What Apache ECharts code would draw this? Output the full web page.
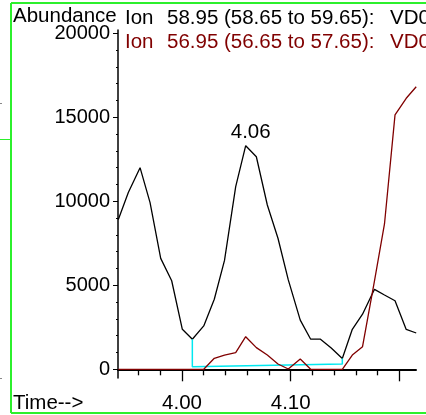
<!DOCTYPE html>
<html>
<head>
<meta charset="utf-8">
<script src="https://cdn.jsdelivr.net/npm/echarts@6/dist/echarts.min.js"></script>
<style>
  html, body { margin: 0; padding: 0; background: #fff; }
  #chart { width: 426px; height: 415px; }
</style>
</head>
<body>
<div id="chart"></div>
<script>
// retention times (min) of the scans
const times = [3.9414, 3.9506, 3.9614, 3.9706, 3.9804, 3.9905, 4.0003, 4.0095, 4.0200, 4.0297,
    4.0391, 4.0494, 4.0586, 4.0684, 4.0785, 4.0883, 4.0978, 4.1088, 4.1184, 4.1274,
    4.1373, 4.1475, 4.1567, 4.1661, 4.1771, 4.1863, 4.1960, 4.2063, 4.2155];
// ion 58.95
const ion59 = [8920, 10520, 12000, 9920, 6600, 5270, 2380, 1790, 2580, 4170,
    6480, 10870, 13310, 12650, 9780, 7800, 5320, 2930, 1790, 1790,
    1270, 640, 2380, 3280, 4760, 4420, 4080, 2370, 2160];
// ion 56.95
const ion57 = [0, 0, 0, 0, 0, 0, 0, 0, 0, 655,
    850, 990, 1940, 1290, 850, 315, 20, 610, 0, 0,
    0, 0, 850, 1345, 5260, 8650, 15140, 16130, 16820];
// integration baseline
const baseTimes = [4.0095, 4.0095, 4.1475, 4.1475];
const baseVals = [1790, 155, 315, 640];
const peakIndex = 12;

const minorTicksX = [3.96, 3.98, 4.02, 4.04, 4.06, 4.08, 4.12, 4.14, 4.16, 4.18];
const majorTicksX = [4.00, 4.10, 4.20];
const labelsX = [4.00, 4.10];
const ticksY = [0, 1000, 2000, 3000, 4000, 5000, 6000, 7000, 8000, 9000, 10000,
    11000, 12000, 13000, 14000, 15000, 16000, 17000, 18000, 19000, 20000];
const labelsY = [0, 5000, 10000, 15000, 20000];

const font = '"Liberation Sans", Arial, sans-serif';
const green = '#2cf02c';
const darkRed = '#800000';

let chart = echarts.init(document.getElementById('chart'));

const xBase = {
    type: 'value',
    min: 3.9411,
    max: 4.2153,
    position: 'bottom',
    splitLine: { show: false }
};
const yBase = {
    type: 'value',
    min: -518,
    max: 20195,
    position: 'left',
    splitLine: { show: false }
};

// header text pieces: [text, x, y, colour]
const headerTexts = [
    ['Abundance', 13, 16, '#000'],
    ['Ion', 125, 18, '#000'],
    ['58.95 (58.65 to 59.65):', 167, 18, '#000'],
    ['VD0', 390, 18, '#000'],
    ['Ion', 125, 42.4, darkRed],
    ['56.95 (56.65 to 57.65):', 167, 42.4, darkRed],
    ['VD0', 390, 42.4, darkRed],
    ['Time-->', 13, 403, '#000']
];

chart.setOption({
    animation: false,
    grid: { left: 118, top: 30, right: 10, bottom: 37, outerBoundsMode: 'none' },
    xAxis: [
        Object.assign({}, xBase, {
            axisLine: { show: true, lineStyle: { color: '#000', width: 2 } },
            axisTick: { show: true, customValues: minorTicksX, length: 6, lineStyle: { color: '#000', width: 1.3 } },
            axisLabel: {
                show: true, customValues: labelsX, margin: 15, color: '#000',
                fontSize: 20.5, fontFamily: font,
                formatter: v => v.toFixed(2)
            }
        }),
        Object.assign({}, xBase, {
            axisLine: { show: false },
            axisTick: { show: true, customValues: majorTicksX, length: 12, lineStyle: { color: '#000', width: 1.3 } },
            axisLabel: { show: false }
        })
    ],
    yAxis: [
        Object.assign({}, yBase, {
            axisLine: { show: true, lineStyle: { color: '#000', width: 1.5 } },
            axisTick: { show: true, customValues: ticksY, length: 2, lineStyle: { color: '#000', width: 1 } },
            axisLabel: {
                show: true, customValues: labelsY, margin: 8, color: '#000',
                fontSize: 20, fontFamily: font,
                formatter: v => String(v)
            }
        }),
        Object.assign({}, yBase, {
            axisLine: { show: false },
            axisTick: { show: true, customValues: labelsY, length: 5, lineStyle: { color: '#000', width: 1 } },
            axisLabel: { show: false }
        })
    ],
    series: [
        {
            name: 'Ion 58.95',
            type: 'line',
            showSymbol: false,
            data: times.map((t, i) => [t, ion59[i]]),
            lineStyle: { color: '#000', width: 1.3 },
            markPoint: {
                symbol: 'circle',
                symbolSize: 0,
                data: [{ coord: [times[peakIndex], ion59[peakIndex]], value: times[peakIndex] }],
                label: {
                    show: true, position: 'top', distance: 3, offset: [5, 0],
                    color: '#000', fontSize: 20.5, fontFamily: font,
                    formatter: p => p.value.toFixed(2)
                }
            }
        },
        {
            name: 'baseline',
            type: 'line',
            showSymbol: false,
            data: baseTimes.map((t, i) => [t, baseVals[i]]),
            lineStyle: { color: '#00e8f0', width: 1.5 }
        },
        {
            name: 'Ion 56.95',
            type: 'line',
            showSymbol: false,
            data: times.map((t, i) => [t, ion57[i]]),
            lineStyle: { color: darkRed, width: 1.3 }
        }
    ],
    graphic: [
        { type: 'line', shape: { x1: 11, y1: 3, x2: 11, y2: 413 }, style: { stroke: green, lineWidth: 2 } },
        { type: 'line', shape: { x1: 11, y1: 3, x2: 426, y2: 3 }, style: { stroke: green, lineWidth: 2 } },
        { type: 'line', shape: { x1: 11, y1: 413, x2: 426, y2: 413 }, style: { stroke: green, lineWidth: 2 } },
        { type: 'line', shape: { x1: 0, y1: 139.5, x2: 11, y2: 139.5 }, style: { stroke: green, lineWidth: 1 } },
        { type: 'line', shape: { x1: 0, y1: 103.5, x2: 2, y2: 103.5 }, style: { stroke: '#888', lineWidth: 1 } },
        { type: 'line', shape: { x1: 0, y1: 378.5, x2: 2, y2: 378.5 }, style: { stroke: '#888', lineWidth: 1 } }
    ].concat(headerTexts.map(h => ({
        type: 'text', x: h[1], y: h[2],
        style: { text: h[0], fill: h[3], fontSize: 20.5, fontFamily: font, verticalAlign: 'middle' }
    })))
});
</script>
</body>
</html>
